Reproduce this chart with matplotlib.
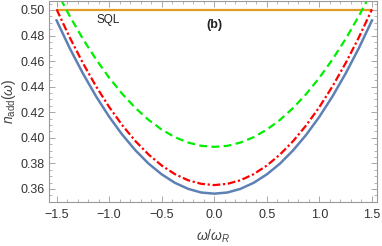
import matplotlib
matplotlib.use("Agg")
import matplotlib.pyplot as plt
from matplotlib.ticker import MultipleLocator

plt.rcParams['font.family'] = ['Liberation Sans', 'DejaVu Sans']
plt.rcParams['mathtext.fontset'] = 'custom'
plt.rcParams['mathtext.rm'] = 'Liberation Sans'
plt.rcParams['mathtext.it'] = 'Liberation Sans:italic'

# frequency grid (omega / omega_R) and curves
omega = [-1.5, -1.375, -1.25, -1.125, -1.0, -0.875, -0.75, -0.625, -0.5, -0.375,
         -0.25, -0.125, 0.0, 0.125, 0.25, 0.375, 0.5, 0.625, 0.75, 0.875,
         1.0, 1.125, 1.25, 1.375, 1.5]
n_blue = [0.4918, 0.4701, 0.4504, 0.4325, 0.4165, 0.4024, 0.3902, 0.3798, 0.3714, 0.3648,
          0.3601, 0.3572, 0.3563, 0.3572, 0.3601, 0.3648, 0.3714, 0.3798, 0.3902, 0.4024,
          0.4165, 0.4325, 0.4504, 0.4701, 0.4918]
n_red = [0.5005, 0.4785, 0.4585, 0.4403, 0.4241, 0.4098, 0.3974, 0.3869, 0.3783, 0.3716,
         0.3668, 0.3640, 0.3630, 0.3640, 0.3668, 0.3716, 0.3783, 0.3869, 0.3974, 0.4098,
         0.4241, 0.4403, 0.4585, 0.4785, 0.5005]
n_green = [0.5146, 0.4952, 0.4774, 0.4614, 0.4470, 0.4343, 0.4233, 0.4140, 0.4064, 0.4005,
           0.3963, 0.3937, 0.3929, 0.3937, 0.3963, 0.4005, 0.4064, 0.4140, 0.4233, 0.4343,
           0.4470, 0.4614, 0.4774, 0.4952, 0.5146]
sql_x = [-1.5, 1.5]
sql_y = [0.5, 0.5]

fig = plt.figure(figsize=(3.82, 2.46), dpi=100)
ax = fig.add_axes([0.128, 0.179, 0.859, 0.817])

ax.plot(sql_x, sql_y, color='#E19C24', lw=1.6, solid_capstyle='butt')
ax.plot(omega, n_blue, color='#5E81B5', lw=1.8)
ax.plot(omega, n_red, color='red', lw=1.6, dashes=(3.5, 1.2, 1.0, 1.2))
ax.plot(omega, n_green, color='#00EE00', lw=1.6, dashes=(3.5, 2.0))

ax.set_xlim(-1.573, 1.548)
ax.set_ylim(0.3498, 0.507)

ax.xaxis.set_major_locator(MultipleLocator(0.5))
ax.xaxis.set_minor_locator(MultipleLocator(0.1))
ax.yaxis.set_major_locator(MultipleLocator(0.02))
ax.yaxis.set_minor_locator(MultipleLocator(0.005))
ax.xaxis.set_major_formatter(lambda v, p: f"{v:.1f}".replace('-', '\u2212'))
ax.yaxis.set_major_formatter(lambda v, p: f"{v:.2f}")

gray = '#999999'
for s in ax.spines.values():
    s.set_color(gray)
    s.set_linewidth(0.8)
ax.tick_params(which='both', direction='in', top=True, right=True, color=gray,
               labelsize=9, labelcolor='#333333')
ax.tick_params(axis='x', pad=5)
ax.tick_params(axis='y', pad=3)
ax.tick_params(which='major', length=4, width=0.6)
ax.tick_params(which='minor', length=2, width=0.5)

ax.set_xlabel(r'$\omega/\omega_R$', fontsize=10, color='#444444', labelpad=5)
ax.set_ylabel(r'$n_{\mathrm{add}}(\omega)$', fontsize=10, color='#444444', labelpad=2)

ax.text(-1.01, 0.4925, 'SQL', fontsize=8.5, ha='center', va='center', color='#222222')
ax.text(0.0, 0.4885, '(b)', fontsize=9, fontweight='bold', ha='center', va='center', color='#222222')

fig.savefig('out.png', dpi=100)
